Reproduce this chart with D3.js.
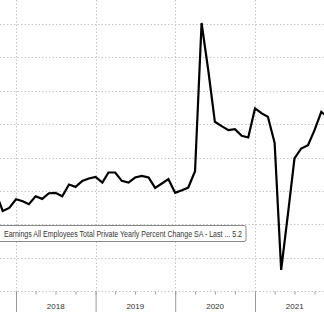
<!DOCTYPE html>
<html>
<head>
<meta charset="utf-8">
<script src="https://cdn.jsdelivr.net/npm/d3@7"></script>
<style>
  html, body { margin: 0; padding: 0; background: #fff; }
  svg { display: block; }
</style>
</head>
<body>
<div id="chart"></div>
<script>
// Data (monthly, plotted at month end)
const months = [
    '2017-09', '2017-10', '2017-11', '2017-12',
    '2018-01', '2018-02', '2018-03', '2018-04', '2018-05', '2018-06',
    '2018-07', '2018-08', '2018-09', '2018-10', '2018-11', '2018-12',
    '2019-01', '2019-02', '2019-03', '2019-04', '2019-05', '2019-06',
    '2019-07', '2019-08', '2019-09', '2019-10', '2019-11', '2019-12',
    '2020-01', '2020-02', '2020-03', '2020-04', '2020-05', '2020-06',
    '2020-07', '2020-08', '2020-09', '2020-10', '2020-11', '2020-12',
    '2021-01', '2021-02', '2021-03', '2021-04', '2021-05', '2021-06',
    '2021-07', '2021-08', '2021-09', '2021-10', '2021-11'
]
const yoyValues = [
    2.95, 2.40, 2.49, 2.75,
    2.69, 2.60, 2.84, 2.76, 2.93, 2.94,
    2.84, 3.19, 3.12, 3.30, 3.37, 3.42,
    3.25, 3.55, 3.55, 3.30, 3.25, 3.40,
    3.45, 3.40, 3.09, 3.22, 3.35, 2.94,
    3.02, 3.10, 3.59, 8.03, 6.60, 5.07,
    4.94, 4.82, 4.85, 4.65, 4.60, 5.47,
    5.32, 5.22, 4.44, 0.63, 2.30, 3.97,
    4.27, 4.37, 4.82, 5.37, 5.20
]
const yearLabels = ['2018', '2019', '2020', '2021']
const gridValues = [0, 1, 2, 3, 4, 5, 6, 7, 8]
const legendText = 'Earnings All Employees Total Private Yearly Percent Change SA - Last ... 5.2'

// Dimensions
const width = 324
const height = 312
const axisY = 291
const fontFamily = '"Liberation Sans", Arial, sans-serif'
const gridColor = '#c4c4c4'
const fontColor = '#333'

const parseMonth = d3.timeParse('%Y-%m')
const data = months.map((m, i) => ({
    date: d3.timeMonth.offset(parseMonth(m), 1),
    value: yoyValues[i]
}))

const x = d3.scaleTime()
    .domain([new Date(2018, 0, 1), new Date(2021, 0, 1)])
    .range([16, 255])
const y = d3.scaleLinear()
    .domain([0, 8])
    .range([291, 24])

const svg = d3.select('#chart')
    .append('svg')
    .attr('width', width)
    .attr('height', height)

// Horizontal grid
svg.append('g')
    .selectAll('line')
    .data(gridValues)
    .join('line')
    .attr('x1', 0)
    .attr('x2', width)
    .attr('y1', d => Math.round(y(d)) + 0.5)
    .attr('y2', d => Math.round(y(d)) + 0.5)
    .attr('stroke', gridColor)
    .attr('stroke-width', 1)
    .attr('stroke-dasharray', '1.5,2')

// Vertical grid at year starts
const yearStarts = yearLabels.map(d => new Date(+d, 0, 1))
svg.append('g')
    .selectAll('line')
    .data(yearStarts)
    .join('line')
    .attr('x1', d => Math.round(x(d)) + 0.5)
    .attr('x2', d => Math.round(x(d)) + 0.5)
    .attr('y1', 0)
    .attr('y2', axisY)
    .attr('stroke', gridColor)
    .attr('stroke-width', 1)
    .attr('stroke-dasharray', '1.5,2')

// Bottom axis: quarter ticks
const xDomainWide = [new Date(2017, 6, 1), new Date(2022, 0, 1)]
const quarterAxis = d3.axisBottom(x)
    .tickValues(d3.timeMonth.every(3).range(...xDomainWide))
    .tickSize(3)
    .tickFormat('')
const gQ = svg.append('g')
    .attr('transform', `translate(0,${axisY + 0.5})`)
    .call(quarterAxis)
gQ.select('.domain').remove()
gQ.selectAll('line').attr('stroke', '#999')

// Year ticks (long)
const yearAxis = d3.axisBottom(x)
    .tickValues(yearStarts)
    .tickSize(height - axisY)
    .tickFormat('')
const gY = svg.append('g')
    .attr('transform', `translate(0,${axisY + 0.5})`)
    .call(yearAxis)
gY.select('.domain').remove()
gY.selectAll('line').attr('stroke', '#999')

// Year labels centred in each year
svg.append('g')
    .selectAll('text')
    .data(yearLabels)
    .join('text')
    .attr('x', d => x(new Date(+d, 6, 2)))
    .attr('y', 309)
    .attr('text-anchor', 'middle')
    .attr('font-family', fontFamily)
    .attr('font-size', 8)
    .attr('fill', fontColor)
    .text(d => d)

// Line
const line = d3.line()
    .x(d => x(d.date))
    .y(d => y(d.value))
svg.append('path')
    .datum(data)
    .attr('fill', 'none')
    .attr('stroke', '#000')
    .attr('stroke-width', 2.2)
    .attr('stroke-linejoin', 'miter')
    .attr('d', line)

// Legend box (cut at left edge)
const legend = svg.append('g')
legend.append('rect')
    .attr('x', -6)
    .attr('y', 225.5)
    .attr('width', 252)
    .attr('height', 16)
    .attr('rx', 2)
    .attr('fill', '#fff')
    .attr('stroke', '#888')
    .attr('stroke-width', 1)
legend.append('text')
    .attr('x', 4)
    .attr('y', 237)
    .attr('font-family', fontFamily)
    .attr('font-size', 8.5)
    .attr('fill', fontColor)
    .attr('textLength', 238)
    .attr('lengthAdjust', 'spacingAndGlyphs')
    .text(legendText)
</script>
</body>
</html>
